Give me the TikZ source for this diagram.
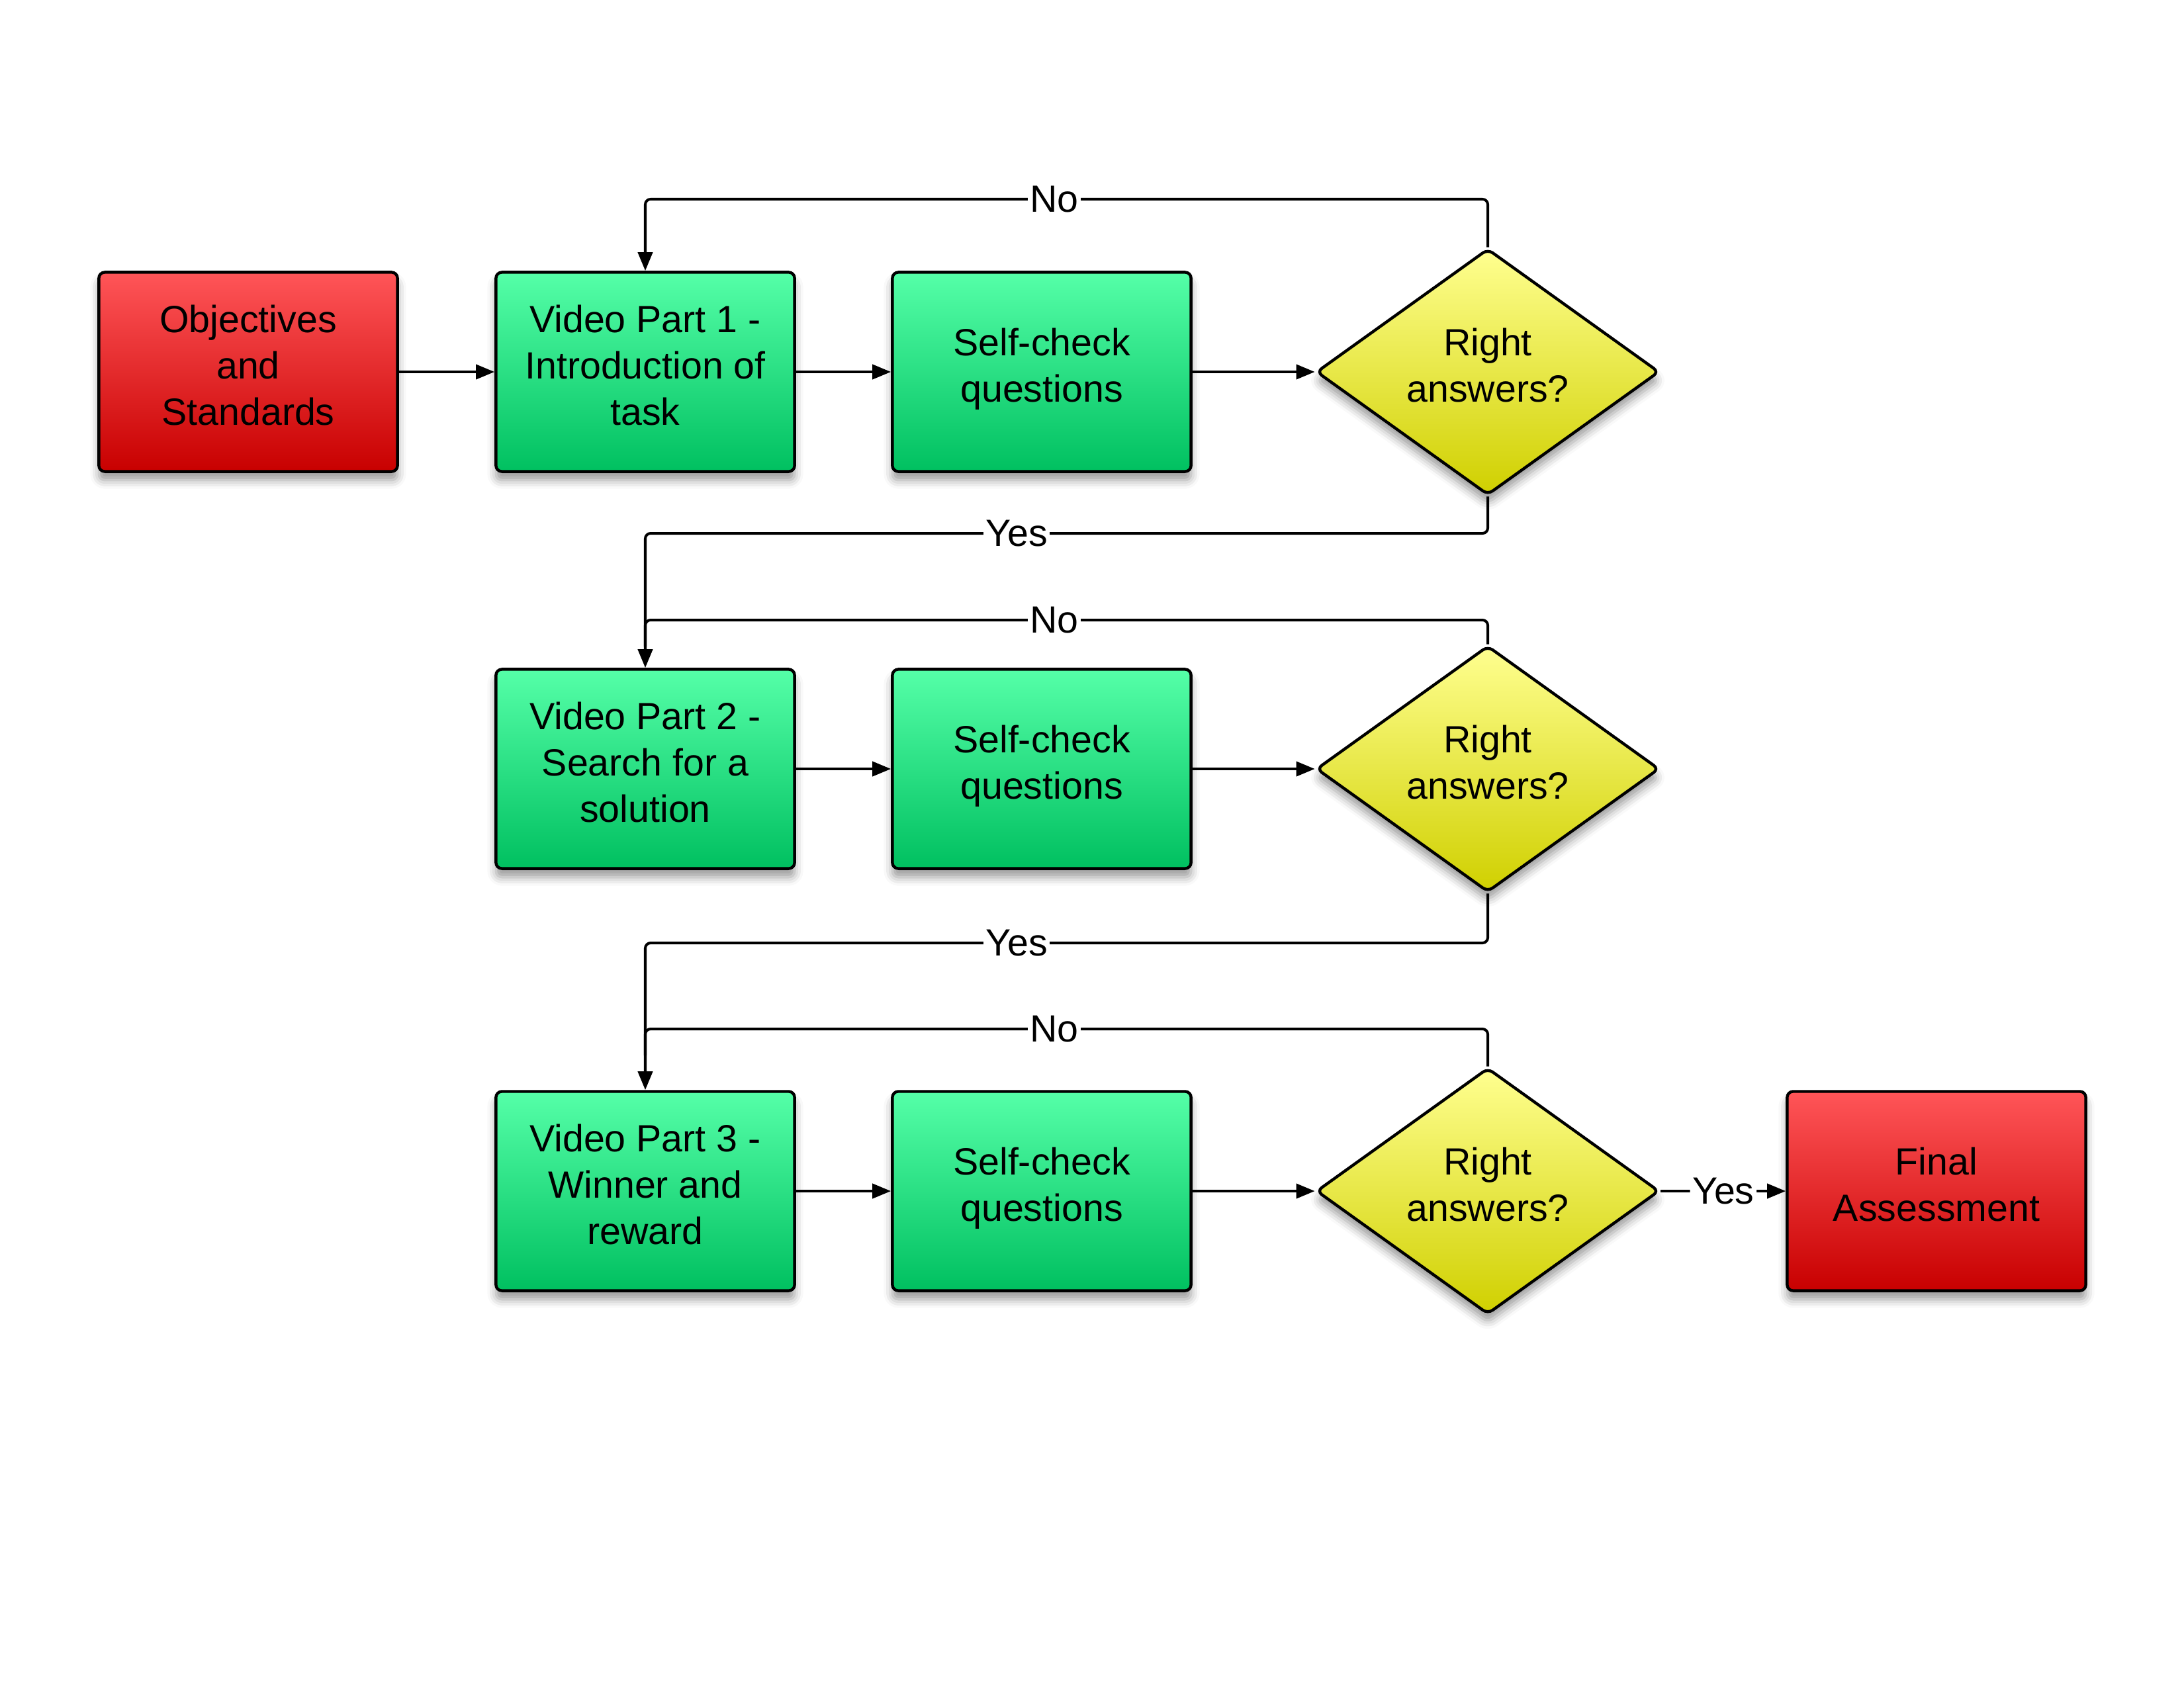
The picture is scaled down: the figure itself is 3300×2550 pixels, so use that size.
\documentclass[tikz,border=0pt]{standalone}
\usepackage{fontspec}
\setmainfont{Liberation Sans}
\usetikzlibrary{shapes.geometric,arrows.meta,shadows.blur}
\definecolor{redtop}{HTML}{FF5558}
\definecolor{redbot}{HTML}{C80000}
\definecolor{greentop}{HTML}{55FFA8}
\definecolor{greenbot}{HTML}{00C060}
\definecolor{yeltop}{HTML}{FFFF90}
\definecolor{yelbot}{HTML}{D0D000}
\tikzset{
  base/.style={draw=black, line width=1.25pt, rounded corners=0.09cm, align=center,
    font=\fontsize{16.3}{19.9}\selectfont, text depth=0.2cm,
    blur shadow={shadow xshift=0pt, shadow yshift=-0.13cm, shadow blur radius=0.13cm, shadow opacity=40}},
  redbox/.style={base, rectangle, minimum width=4.51cm, minimum height=3.01cm, top color=redtop, bottom color=redbot},
  greenbox/.style={base, rectangle, minimum width=4.51cm, minimum height=3.01cm, top color=greentop, bottom color=greenbot},
  decision/.style={base, diamond, inner sep=0pt, aspect=1.39, minimum width=5.18cm, minimum height=3.72cm, top color=yeltop, bottom color=yelbot},
  conn/.style={draw=black, line width=1.15pt, rounded corners=0.08cm},
  arr/.style={-{Triangle[length=0.28cm,width=0.22cm]}},
  lbl/.style={fill=white, inner sep=1pt, font=\fontsize{16.3}{19.9}\selectfont}
}
\begin{document}
\begin{tikzpicture}[x=0.01cm,y=-0.01cm]
\useasboundingbox (0,0) rectangle (3300,2550);
% row 1
\node[redbox] (obj) at (375,562) {Objectives\\and\\Standards};
\node[greenbox] (v1) at (975,562) {Video Part 1 -\\Introduction of\\task};
\node[greenbox] (s1) at (1574,562) {Self-check\\questions};
\node[decision] (d1) at (2248,562) {Right\\answers?};
% row 2
\node[greenbox] (v2) at (975,1162) {Video Part 2 -\\Search for a\\solution};
\node[greenbox] (s2) at (1574,1162) {Self-check\\questions};
\node[decision] (d2) at (2248,1162) {Right\\answers?};
% row 3
\node[greenbox] (v3) at (975,1800) {Video Part 3 -\\Winner and\\reward};
\node[greenbox] (s3) at (1574,1800) {Self-check\\questions};
\node[decision] (d3) at (2248,1800) {Right\\answers?};
\node[redbox] (fin) at (2926,1800) {Final\\Assessment};
% horizontal arrows
\draw[conn,arr] (obj) -- (v1);
\draw[conn,arr] (v1) -- (s1);
\draw[conn,arr] (s1) -- (d1);
\draw[conn,arr] (v2) -- (s2);
\draw[conn,arr] (s2) -- (d2);
\draw[conn,arr] (v3) -- (s3);
\draw[conn,arr] (s3) -- (d3);
% loops
\coordinate (n1r) at (2248,301); \coordinate (n1l) at (975,301);
\draw[conn,arr] (d1.north) -- (n1r) -- (n1l) -- (v1.north);
\node[lbl] (no1) at (1593,301) {No};
\coordinate (y1r) at (2248,806); \coordinate (y1l) at (975,806);
\draw[conn,arr] (d1.south) -- (y1r) -- (y1l) -- (v2.north);
\node[lbl] (yes1) at (1536,806) {Yes};
\coordinate (n2r) at (2248,937); \coordinate (n2l) at (975,937);
\draw[conn] (d2.north) -- (n2r) -- (n2l) -- ([yshift=-0.4cm]n2l);
\node[lbl] (no2) at (1593,937) {No};
\coordinate (y2r) at (2248,1425); \coordinate (y2l) at (975,1425);
\draw[conn,arr] (d2.south) -- (y2r) -- (y2l) -- (v3.north);
\node[lbl] (yes2) at (1536,1425) {Yes};
\coordinate (n3r) at (2248,1555); \coordinate (n3l) at (975,1555);
\draw[conn] (d3.north) -- (n3r) -- (n3l) -- ([yshift=-0.4cm]n3l);
\node[lbl] (no3) at (1593,1555) {No};
\draw[conn,arr] (d3.east) -- node[lbl] (yes3) {Yes} (fin.west);
\end{tikzpicture}
\end{document}
